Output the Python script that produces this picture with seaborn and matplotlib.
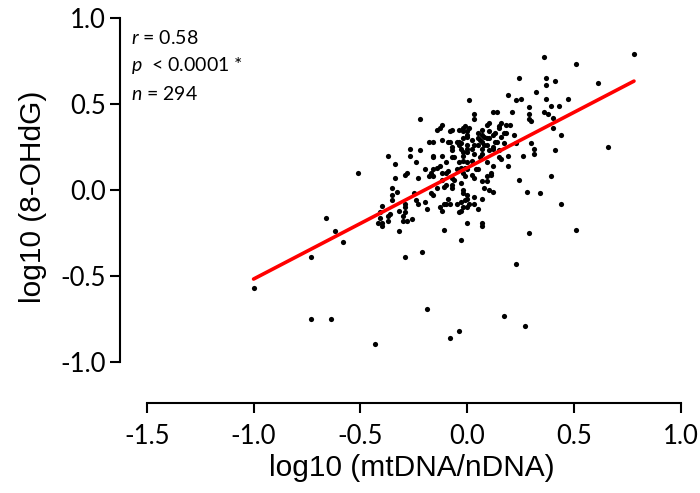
import matplotlib
matplotlib.use("Agg")
import matplotlib.pyplot as plt
import numpy as np
import pandas as pd
import seaborn as sns

# log10 mtDNA/nDNA ratio (x) and log10 8-OHdG (y)
log_mt = [
    -1.00, -0.66, -0.62, -0.58, -0.73, -0.73, -0.64, -0.43, -0.29, -0.21,
    0.23, -0.19, 0.17, 0.27, -0.04, -0.08, 0.66, 0.41, 0.31, 0.26,
    0.30, 0.31, 0.39, 0.24, 0.28, 0.34, 0.44, 0.51, 0.29, 0.07,
    0.07, 0.07, 0.12, 0.11, 0.09, 0.09, 0.07, 0.08, 0.10, 0.19,
    0.19, 0.09, 0.16, 0.15, 0.78, 0.36, 0.51, 0.61, 0.24, 0.37,
    0.41, 0.37, 0.32, 0.19, 0.25, 0.23, 0.37, 0.47, 0.43, 0.39,
    0.29, 0.29, 0.29, 0.30, 0.36, 0.38, 0.40, 0.12, 0.14, 0.21,
    0.10, 0.16, 0.18, 0.20, 0.40, 0.44, 0.12, 0.17, 0.15, 0.22,
    0.07, 0.23, 0.01, -0.22, 0.03, 0.03, -0.12, -0.14, -0.08, -0.04,
    -0.01, 0.00, 0.00, 0.09, 0.05, 0.08, 0.13, 0.15, -0.16, -0.18,
    -0.12, -0.09, -0.08, -0.05, -0.04, -0.02, 0.02, 0.06, 0.07, 0.10,
    0.13, -0.27, -0.22, -0.27, -0.37, -0.24, -0.34, -0.16, -0.12, -0.07,
    -0.07, -0.03, 0.00, 0.02, 0.05, 0.08, 0.12, 0.15, 0.06, -0.34,
    -0.29, -0.23, -0.18, -0.16, -0.17, -0.12, -0.10, -0.12, -0.10, -0.07,
    -0.06, -0.03, -0.01, 0.02, 0.05, 0.11, -0.35, -0.33, -0.35, -0.35,
    -0.40, -0.41, -0.29, -0.25, -0.24, -0.17, -0.16, -0.14, -0.09, -0.10,
    -0.11, -0.08, -0.05, 0.00, -0.02, 0.00, 0.03, 0.00, 0.03, 0.05,
    -0.02, -0.04, -0.13, -0.12, -0.19, -0.23, -0.29, -0.29, -0.30, -0.36,
    -0.37, -0.30, -0.28, -0.26, -0.32, -0.11, 0.00, -0.03, -0.41, -0.42,
    -0.40, -0.40, -0.37, -0.32, -0.51, -0.20, -0.11, -0.07, -0.07, -0.03,
    0.03, -0.02, -0.01, 0.01, -0.03, -0.02, -0.02, 0.01, 0.07, 0.10,
    0.18, 0.16, 0.00, 0.05, 0.09, 0.14, 0.17, -0.03, 0.00, 0.03,
    0.07, 0.09, 0.12, -0.02, 0.00, 0.03, 0.07, 0.10, -0.02, 0.00,
    0.02, 0.12, 0.04, 0.00, -0.02, -0.13, -0.07, -0.04, -0.16, -0.10,
    -0.13, -0.14, -0.07, -0.06, -0.04, -0.02, -0.03, -0.05, -0.16, -0.20,
    -0.28, -0.01, -0.09,
]
log_ohdg = [
    -0.57, -0.16, -0.24, -0.30, -0.39, -0.75, -0.75, -0.89, -0.39, -0.36,
    -0.43, -0.69, -0.73, -0.79, -0.82, -0.86, 0.25, 0.23, 0.21, 0.20,
    0.27, 0.24, 0.08, 0.06, -0.01, -0.02, -0.08, -0.23, -0.25, -0.19,
    -0.21, -0.05, -0.01, 0.09, 0.08, 0.05, 0.05, 0.01, 0.00, 0.20,
    0.14, 0.16, 0.18, 0.19, 0.79, 0.77, 0.73, 0.62, 0.65, 0.65,
    0.63, 0.61, 0.57, 0.55, 0.53, 0.52, 0.53, 0.53, 0.49, 0.49,
    0.48, 0.44, 0.41, 0.40, 0.45, 0.44, 0.42, 0.45, 0.45, 0.45,
    0.39, 0.39, 0.38, 0.38, 0.36, 0.32, 0.32, 0.33, 0.37, 0.32,
    0.32, 0.27, 0.52, 0.41, 0.44, 0.41, 0.38, 0.35, 0.34, 0.35,
    0.37, 0.34, 0.32, 0.38, 0.33, 0.31, 0.33, 0.36, 0.28, 0.28,
    0.29, 0.28, 0.28, 0.28, 0.28, 0.30, 0.29, 0.29, 0.28, 0.30,
    0.28, 0.24, 0.23, 0.20, 0.20, 0.16, 0.15, 0.20, 0.20, 0.25,
    0.23, 0.24, 0.24, 0.24, 0.26, 0.26, 0.24, 0.23, 0.19, 0.07,
    0.09, 0.07, 0.08, 0.08, 0.10, 0.10, 0.10, 0.06, 0.03, 0.03,
    0.06, 0.04, 0.08, 0.09, 0.12, 0.10, 0.01, -0.01, -0.03, -0.06,
    -0.09, -0.13, -0.08, -0.02, -0.06, -0.02, -0.03, 0.01, -0.05, -0.08,
    -0.08, -0.08, -0.08, -0.03, -0.02, -0.05, -0.04, -0.10, -0.08, -0.11,
    -0.10, -0.13, -0.10, -0.12, -0.11, -0.08, -0.10, -0.13, -0.15, -0.14,
    -0.18, -0.18, -0.18, -0.17, -0.24, -0.23, -0.19, -0.29, -0.16, -0.19,
    -0.19, -0.21, -0.15, -0.12, 0.10, -0.07, 0.02, 0.01, 0.07, -0.07,
    0.07, 0.00, -0.06, -0.08, -0.12, 0.36, 0.34, 0.36, 0.35, 0.34,
    0.33, 0.31, 0.31, 0.30, 0.30, 0.28, 0.27, 0.27, 0.26, 0.26,
    0.24, 0.26, 0.25, 0.22, 0.22, 0.21, 0.21, 0.23, 0.17, 0.16,
    0.17, 0.14, 0.12, 0.12, 0.10, 0.36, 0.35, 0.26, 0.19, 0.16,
    0.14, 0.13, 0.19, 0.19, 0.16, 0.20, 0.13, 0.12, 0.12, 0.12,
    0.10, 0.13, 0.11,
]

stats_lines = [r"$\it{r}$ = 0.58", r"$\it{p}$  < 0.0001 *", r"$\it{n}$ = 294"]
x_ticks = [-1.5, -1.0, -0.5, 0.0, 0.5, 1.0]
y_ticks = [-1.0, -0.5, 0.0, 0.5, 1.0]

df = pd.DataFrame({"mt": log_mt, "ohdg": log_ohdg})

sns.set_style("ticks")
plt.rcParams["font.family"] = ["Lato", "DejaVu Sans"]
plt.rcParams["mathtext.fontset"] = "custom"
plt.rcParams["mathtext.rm"] = "Lato"
plt.rcParams["mathtext.it"] = "Lato:italic"

fig = plt.figure(figsize=(7, 4.93), dpi=100)
ax = fig.add_axes([120 / 700, 1 - 403 / 493, 561 / 700, 394 / 493])

sns.scatterplot(data=df, x="mt", y="ohdg", color="black", s=14, linewidth=0, ax=ax, zorder=2)
sns.regplot(data=df, x="mt", y="ohdg", scatter=False, ci=None, ax=ax,
            line_kws={"color": "#ff0000", "lw": 2.6, "zorder": 3})

ax.set_xlim(-1.625, 1.0)
ax.set_ylim(-1.235, 1.05)
ax.set_xticks(x_ticks)
ax.set_yticks(y_ticks)
ax.set_xticklabels([f"{t:.1f}" for t in x_ticks])
ax.set_yticklabels([f"{t:.1f}" for t in y_ticks])
for s in ["top", "right"]:
    ax.spines[s].set_visible(False)
ax.spines["left"].set_bounds(-1.0, 1.0)
ax.spines["bottom"].set_bounds(-1.5, 1.0)
for s in ["left", "bottom"]:
    ax.spines[s].set_linewidth(1.5)
    ax.spines[s].set_color("black")
ax.tick_params(axis="both", direction="out", length=7, width=1.5, color="black",
               labelsize=18.5, labelcolor="black")
ax.tick_params(axis="x", pad=8)
ax.tick_params(axis="y", pad=3)

ax.set_xlabel("log10 (mtDNA/nDNA)", fontsize=21.5, family="Liberation Sans", color="black")
ax.set_ylabel("log10 (8-OHdG)", fontsize=21.5, family="Liberation Sans", color="black")
ax.xaxis.set_label_coords(0.52, -0.13)
ax.yaxis.set_label_coords(-0.13, 0.523)

for i, line in enumerate(stats_lines):
    ax.text(131 / 700, (493 - 38 - 28 * i) / 493, line, transform=fig.transFigure,
            fontsize=14, va="center", ha="left", color="black")

fig.savefig("out.png", dpi=100)
